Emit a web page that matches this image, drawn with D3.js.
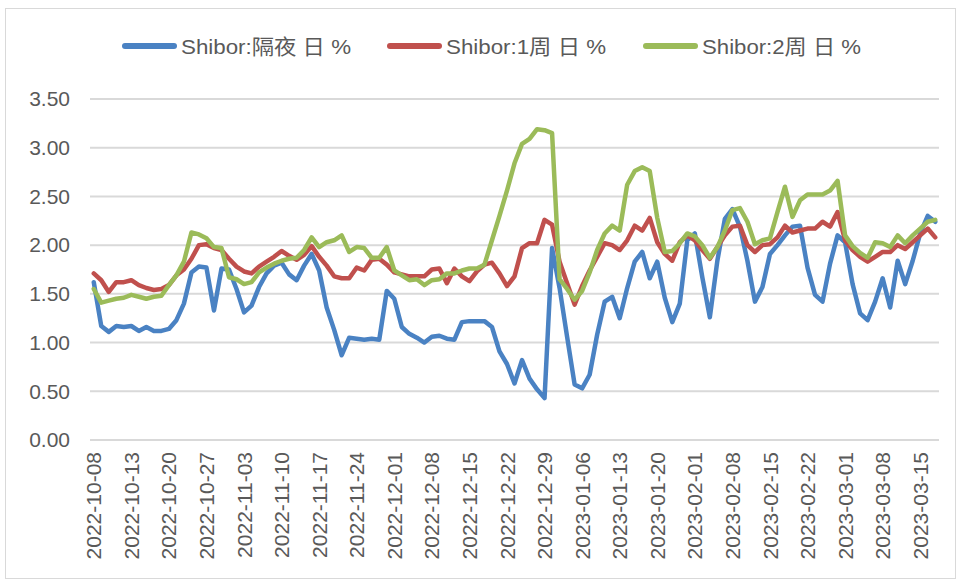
<!DOCTYPE html>
<html>
<head>
<meta charset="utf-8">
<script src="https://cdn.jsdelivr.net/npm/d3@7"></script>
<style>
  body { margin: 0; background: #fff; }
  svg { display: block; font-family: "Liberation Sans", Arial, "Noto Sans CJK SC", sans-serif; }
</style>
</head>
<body>
<svg id="chart" width="959" height="581"></svg>
<script>
// Shibor trading days (category axis)
const dates = [
  "2022-10-08","2022-10-09","2022-10-10","2022-10-11","2022-10-12","2022-10-13","2022-10-14",
  "2022-10-17","2022-10-18","2022-10-19","2022-10-20","2022-10-21",
  "2022-10-24","2022-10-25","2022-10-26","2022-10-27","2022-10-28",
  "2022-10-31","2022-11-01","2022-11-02","2022-11-03","2022-11-04",
  "2022-11-07","2022-11-08","2022-11-09","2022-11-10","2022-11-11",
  "2022-11-14","2022-11-15","2022-11-16","2022-11-17","2022-11-18",
  "2022-11-21","2022-11-22","2022-11-23","2022-11-24","2022-11-25",
  "2022-11-28","2022-11-29","2022-11-30","2022-12-01","2022-12-02",
  "2022-12-05","2022-12-06","2022-12-07","2022-12-08","2022-12-09",
  "2022-12-12","2022-12-13","2022-12-14","2022-12-15","2022-12-16",
  "2022-12-19","2022-12-20","2022-12-21","2022-12-22","2022-12-23",
  "2022-12-26","2022-12-27","2022-12-28","2022-12-29","2022-12-30",
  "2023-01-03","2023-01-04","2023-01-05","2023-01-06",
  "2023-01-09","2023-01-10","2023-01-11","2023-01-12","2023-01-13",
  "2023-01-16","2023-01-17","2023-01-18","2023-01-19","2023-01-20",
  "2023-01-28","2023-01-29","2023-01-30","2023-01-31","2023-02-01","2023-02-02","2023-02-03",
  "2023-02-06","2023-02-07","2023-02-08","2023-02-09","2023-02-10",
  "2023-02-13","2023-02-14","2023-02-15","2023-02-16","2023-02-17",
  "2023-02-20","2023-02-21","2023-02-22","2023-02-23","2023-02-24",
  "2023-02-27","2023-02-28","2023-03-01","2023-03-02","2023-03-03",
  "2023-03-06","2023-03-07","2023-03-08","2023-03-09","2023-03-10",
  "2023-03-13","2023-03-14","2023-03-15","2023-03-16","2023-03-17"
];

const overnight = [
  1.62,1.17,1.11,1.17,1.16,1.17,1.12,1.16,1.12,1.12,1.14,1.23,1.40,1.72,1.78,1.77,1.33,1.76,1.75,1.55,
  1.31,1.38,1.57,1.71,1.79,1.82,1.70,1.64,1.79,1.91,1.74,1.36,1.13,0.87,1.05,1.04,1.03,1.04,1.03,1.53,
  1.45,1.16,1.09,1.05,1.00,1.06,1.07,1.04,1.03,1.21,1.22,1.22,1.22,1.16,0.91,0.78,0.58,0.82,0.63,0.52,
  0.43,1.97,1.56,1.06,0.57,0.53,0.67,1.08,1.42,1.47,1.25,1.56,1.83,1.93,1.66,1.83,1.46,1.21,1.40,2.05,
  2.12,1.67,1.26,1.84,2.27,2.37,2.19,1.84,1.42,1.57,1.91,2.00,2.10,2.19,2.20,1.77,1.49,1.42,1.81,2.10,
  2.03,1.60,1.30,1.23,1.42,1.66,1.36,1.84,1.60,1.84,2.12,2.30,2.24
];

const week1 = [
  1.71,1.64,1.52,1.62,1.62,1.64,1.59,1.56,1.54,1.55,1.59,1.69,1.75,1.86,2.00,2.01,1.97,1.95,1.86,1.78,
  1.73,1.71,1.78,1.83,1.88,1.94,1.89,1.85,1.90,1.99,1.88,1.79,1.68,1.66,1.66,1.77,1.74,1.85,1.86,1.80,
  1.72,1.70,1.68,1.68,1.68,1.75,1.76,1.61,1.76,1.68,1.63,1.73,1.80,1.82,1.71,1.58,1.68,1.97,2.02,2.02,
  2.26,2.21,1.83,1.61,1.39,1.58,1.74,1.88,2.02,2.00,1.95,2.05,2.20,2.15,2.28,2.03,1.91,1.84,2.03,2.10,
  2.05,1.95,1.86,1.98,2.10,2.19,2.20,2.00,1.93,2.00,2.01,2.08,2.20,2.13,2.15,2.17,2.17,2.24,2.19,2.34,
  2.05,1.95,1.88,1.83,1.88,1.93,1.93,2.00,1.96,2.03,2.10,2.17,2.08
];

const week2 = [
  1.55,1.41,1.43,1.45,1.46,1.49,1.47,1.45,1.47,1.48,1.59,1.69,1.83,2.13,2.11,2.07,1.98,1.97,1.67,1.65,
  1.60,1.62,1.72,1.77,1.81,1.84,1.86,1.87,1.95,2.08,1.98,2.03,2.05,2.10,1.93,1.98,1.97,1.87,1.87,1.98,
  1.74,1.69,1.64,1.65,1.59,1.64,1.65,1.71,1.71,1.74,1.76,1.76,1.80,2.05,2.30,2.56,2.84,3.04,3.09,3.19,
  3.18,3.15,1.65,1.55,1.44,1.53,1.72,1.95,2.12,2.20,2.15,2.62,2.76,2.80,2.76,2.28,1.93,1.94,2.02,2.12,
  2.09,2.00,1.87,1.98,2.15,2.36,2.38,2.24,2.01,2.05,2.07,2.34,2.60,2.29,2.46,2.52,2.52,2.52,2.56,2.66,
  2.10,1.99,1.92,1.87,2.03,2.02,1.98,2.10,2.02,2.10,2.17,2.24,2.26
];

const seriesNames = ["Shibor:隔夜 日 %", "Shibor:1周 日 %", "Shibor:2周 日 %"];
const seriesColors = ["#4a82c3", "#c0504d", "#9bbb59"];
const yTicks = [0, 0.5, 1, 1.5, 2, 2.5, 3, 3.5];

const svg = d3.select("#chart");
const textColor = "#595959";

// outer frame
svg.append("rect")
  .attr("x", 5.5).attr("y", 8.5)
  .attr("width", 950).attr("height", 570)
  .attr("fill", "#fff")
  .attr("stroke", "#d9d9d9");

const plotLeft = 90, plotRight = 939, plotTop = 99, plotBottom = 440;

const x = d3.scaleBand().domain(dates).range([plotLeft, plotRight]).padding(0);
const y = d3.scaleLinear().domain([0, 3.5]).range([plotBottom, plotTop]);

// gridlines
svg.append("g")
  .selectAll("line")
  .data(yTicks)
  .join("line")
  .attr("x1", plotLeft).attr("x2", plotRight)
  .attr("y1", d => y(d)).attr("y2", d => y(d))
  .attr("stroke", "#d9d9d9")
  .attr("stroke-width", 2);

// y axis labels
const yAxis = svg.append("g")
  .attr("transform", `translate(${plotLeft - 20},0)`)
  .call(d3.axisLeft(y).tickValues(yTicks).tickFormat(d3.format(".2f")).tickSize(0).tickPadding(0));
yAxis.select(".domain").remove();
yAxis.selectAll("text")
  .attr("fill", textColor)
  .style("font-size", "21px");

// x axis labels, every 5th trading day
const xAxis = svg.append("g")
  .attr("transform", `translate(0,${plotBottom})`)
  .call(d3.axisBottom(x).tickValues(dates.filter((d, i) => i % 5 === 0)).tickSize(0).tickPadding(0));
xAxis.select(".domain").remove();
xAxis.selectAll("text")
  .attr("fill", textColor)
  .style("font-size", "21px")
  .attr("text-anchor", "end")
  .attr("transform", "rotate(-90)")
  .attr("x", -12)
  .attr("y", 0)
  .attr("dy", "0.36em");

// lines
const line = d3.line()
  .x((d, i) => x(dates[i]) + x.bandwidth() / 2)
  .y(d => y(d));

[overnight, week1, week2].forEach((vals, k) => {
  svg.append("path")
    .datum(vals)
    .attr("d", line)
    .attr("fill", "none")
    .attr("stroke", seriesColors[k])
    .attr("stroke-width", 4.5)
    .attr("stroke-linejoin", "round")
    .attr("stroke-linecap", "round");
});

// legend
const legendX = [125, 390, 646];
const legendW = [170, 160, 159];
const legend = svg.append("g");
seriesNames.forEach((name, k) => {
  legend.append("line")
    .attr("x1", legendX[k]).attr("x2", legendX[k] + 49)
    .attr("y1", 46).attr("y2", 46)
    .attr("stroke", seriesColors[k])
    .attr("stroke-width", 6)
    .attr("stroke-linecap", "round");
  legend.append("text")
    .attr("x", legendX[k] + 56)
    .attr("y", 54)
    .attr("fill", textColor)
    .style("font-size", "21px")
    .attr("textLength", legendW[k])
    .attr("lengthAdjust", "spacingAndGlyphs")
    .text(name);
});
</script>
</body>
</html>
